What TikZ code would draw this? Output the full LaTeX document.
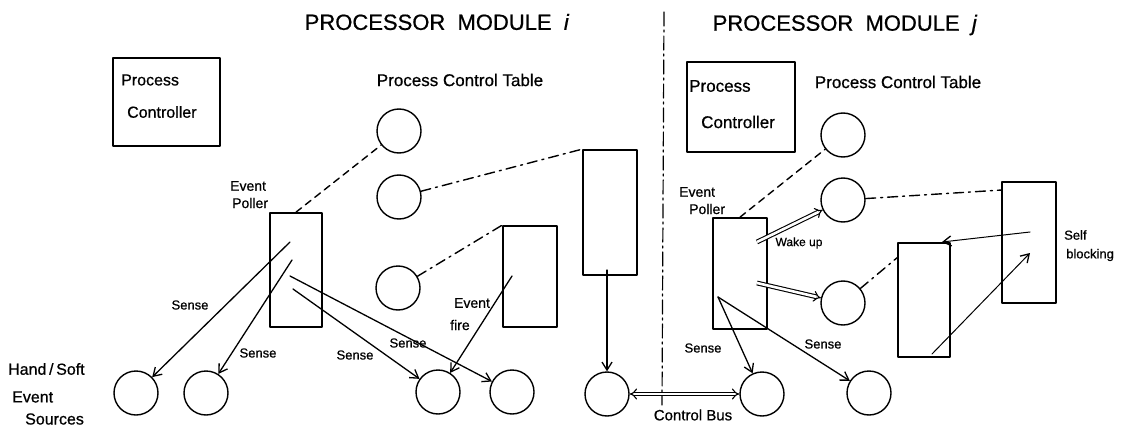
\documentclass[tikz,border=0pt]{standalone}
\usepackage{fontspec}
\setmainfont{Liberation Sans}[FakeBold=0.7]
\usetikzlibrary{arrows.meta}
\newcommand{\fs}[1]{\fontsize{#1}{#1}\selectfont}
\tikzset{
  stroke/.style={line width=1.4pt, line cap=round, line join=round},
  blockbox/.style={draw, stroke, line width=1.7pt, rectangle, inner sep=0pt},
  pcb/.style={circle, draw, stroke, minimum size=44pt, inner sep=0pt},
  arr/.style={stroke, line width=1.3pt, -{Straight Barb[length=8pt,width=10pt,line width=1.3pt]}},
  dbl/.style={line width=1.1pt, double, double distance=2.6pt, -{Implies[length=6pt]}},
  dbltwo/.style={line width=1.1pt, double, double distance=2.6pt, {Implies[length=6pt]}-{Implies[length=6pt]}},
  dashln/.style={stroke, line width=1.4pt, dash pattern=on 7pt off 5pt},
  dashdotln/.style={stroke, line width=1.4pt, dash pattern=on 10pt off 5pt on 2pt off 5pt},
  title/.style={font=\fs{22}},
  lbl/.style={inner sep=0pt, font=\fs{13}},
  big/.style={inner sep=0pt, font=\fs{16}},
}
\begin{document}
\begin{tikzpicture}[x=1pt,y=-1pt]
\useasboundingbox (0,0) rectangle (1127,428);

% titles and module divider
\node[title] (titlei) at (437,22) {PROCESSOR\ \ MODULE\ \ \textit{i}};
\node[title] (titlej) at (845,25) {PROCESSOR\ \ MODULE\ \ \textit{j}};
\coordinate (divtop) at (664,12);
\coordinate (divbot) at (662,405);
\draw[stroke, line width=1.2pt, dash pattern=on 14pt off 4pt on 2pt off 4pt] (divtop) -- (divbot);

% ---------- processor module i ----------
\node[blockbox, minimum width=107pt, minimum height=88pt] (pcL) at (166.5,102) {};
\node[big, anchor=west] (pcLa) at (121,80) {Process};
\node[big, anchor=west] (pcLb) at (127,112) {Controller};
\node[big, font=\fs{17}] (pctLlbl) at (460,80) {Process Control Table};

\node[pcb] (pctL1) at (399,131) {};
\node[pcb] (pctL2) at (399,197) {};
\node[pcb] (pctL3) at (398,288) {};

\node[lbl, font=\fs{14}, anchor=west] (evpL1) at (230,186) {Event};
\node[lbl, font=\fs{14}, anchor=west] (evpL2) at (232,203) {Poller};
\node[blockbox, minimum width=52pt, minimum height=114pt] (pollerL) at (296,270) {};
\node[blockbox, minimum width=54pt, minimum height=101pt] (rectB) at (530,276.5) {};
\node[blockbox, minimum width=54pt, minimum height=125pt] (rectC) at (610,212.5) {};

\node[pcb] (srcL1) at (136,393) {};
\node[pcb] (srcL2) at (206,393) {};
\node[pcb] (srcL3) at (438,392) {};
\node[pcb] (srcL4) at (512,392) {};
\node[pcb] (srcL5) at (607,394) {};

\node[big, anchor=west] (hs1) at (8,369) {Hand\,/\,Soft};
\node[big, anchor=west] (hs2) at (12,397) {Event};
\node[big, anchor=west] (hs3) at (25,419) {Sources};

% table entries linked to their process blocks
\draw[dashln] (pollerL.north) -- (pctL1);
\draw[dashdotln] (pctL2) -- (rectC.north west);
\draw[dashdotln] (pctL3) -- (rectB.north west);

% sensing paths from the poller
\coordinate (sL1) at (290,242);
\coordinate (sL2) at (292,260);
\coordinate (sL3) at (290,276);
\coordinate (sL4) at (293,289);
\draw[arr] (sL1) -- (srcL1);
\draw[arr] (sL2) -- (srcL2);
\draw[arr] (sL3) -- (srcL4);
\draw[arr] (sL4) -- (srcL3);
\node[lbl] (senseL1) at (190,305) {Sense};
\node[lbl] (senseL2) at (258,353) {Sense};
\node[lbl] (senseL3) at (355,355) {Sense};
\node[lbl] (senseL4) at (408,343) {Sense};

% event fire
\coordinate (fireL) at (512,276);
\draw[arr] (fireL) -- (srcL3);
\node[lbl, font=\fs{14}] (fire1) at (472,303) {Event};
\node[lbl, font=\fs{14}] (fire2) at (460,325) {fire};

% block output onto the bus source
\coordinate (outC) at (607,270);
\draw[arr] (outC) -- (srcL5);

% ---------- processor module j ----------
\node[blockbox, minimum width=108pt, minimum height=90pt] (pcR) at (741,107) {};
\node[big, font=\fs{17}, anchor=west] (pcRa) at (689,86) {Process};
\node[big, font=\fs{17}, anchor=west] (pcRb) at (701,122) {Controller};
\node[big, font=\fs{17}] (pctRlbl) at (898,82) {Process Control Table};

\node[pcb] (pctR1) at (843,135) {};
\node[pcb] (pctR2) at (843,200) {};
\node[pcb] (pctR3) at (843,303) {};

\node[lbl, font=\fs{14}, anchor=west] (evpR1) at (679,192) {Event};
\node[lbl, font=\fs{14}, anchor=west] (evpR2) at (689,209) {Poller};
\node[blockbox, minimum width=54pt, minimum height=111pt] (pollerR) at (740,273.5) {};
\node[blockbox, minimum width=52pt, minimum height=114pt] (rectD) at (924,300) {};
\node[blockbox, minimum width=54pt, minimum height=121pt] (rectE) at (1029,242.5) {};

\node[pcb] (srcR1) at (762,394) {};
\node[pcb] (srcR2) at (869,393) {};

% control bus
\draw[dbltwo] (srcL5) -- (srcR1);
\node[lbl, font=\fs{15}] (busl) at (693,415) {Control Bus};

% table entries linked to their process blocks
\coordinate (eIn) at (1002,190);
\coordinate (dIn) at (898,257);
\draw[dashln] (pollerR.north) -- (pctR1);
\draw[dashdotln] (pctR2) -- (eIn);
\draw[dashdotln] (pctR3) -- (dIn);

% wake up
\coordinate (wk1) at (757,242);
\coordinate (wk2) at (757,283);
\draw[dbl] (wk1) -- (pctR2);
\draw[dbl] (wk2) -- (pctR3);
\node[lbl, font=\fs{12}] (wake) at (799,243) {Wake up};

% sensing
\coordinate (sR) at (718,297);
\draw[arr] (sR) -- (srcR1);
\draw[arr] (sR) -- (srcR2);
\node[lbl] (senseR1) at (703,348) {Sense};
\node[lbl] (senseR2) at (823,344) {Sense};

% self blocking
\coordinate (sb1) at (1030,232);
\coordinate (sbD) at (942,242);
\coordinate (sb2) at (932,354);
\coordinate (sb3) at (1030,253);
\draw[arr, line width=1pt] (sb1) -- (sbD);
\draw[arr, line width=1pt] (sb2) -- (sb3);
\node[lbl, anchor=west] (self1) at (1064,235) {Self};
\node[lbl, anchor=west] (self2) at (1066,255) {blocking};
\end{tikzpicture}
\end{document}
